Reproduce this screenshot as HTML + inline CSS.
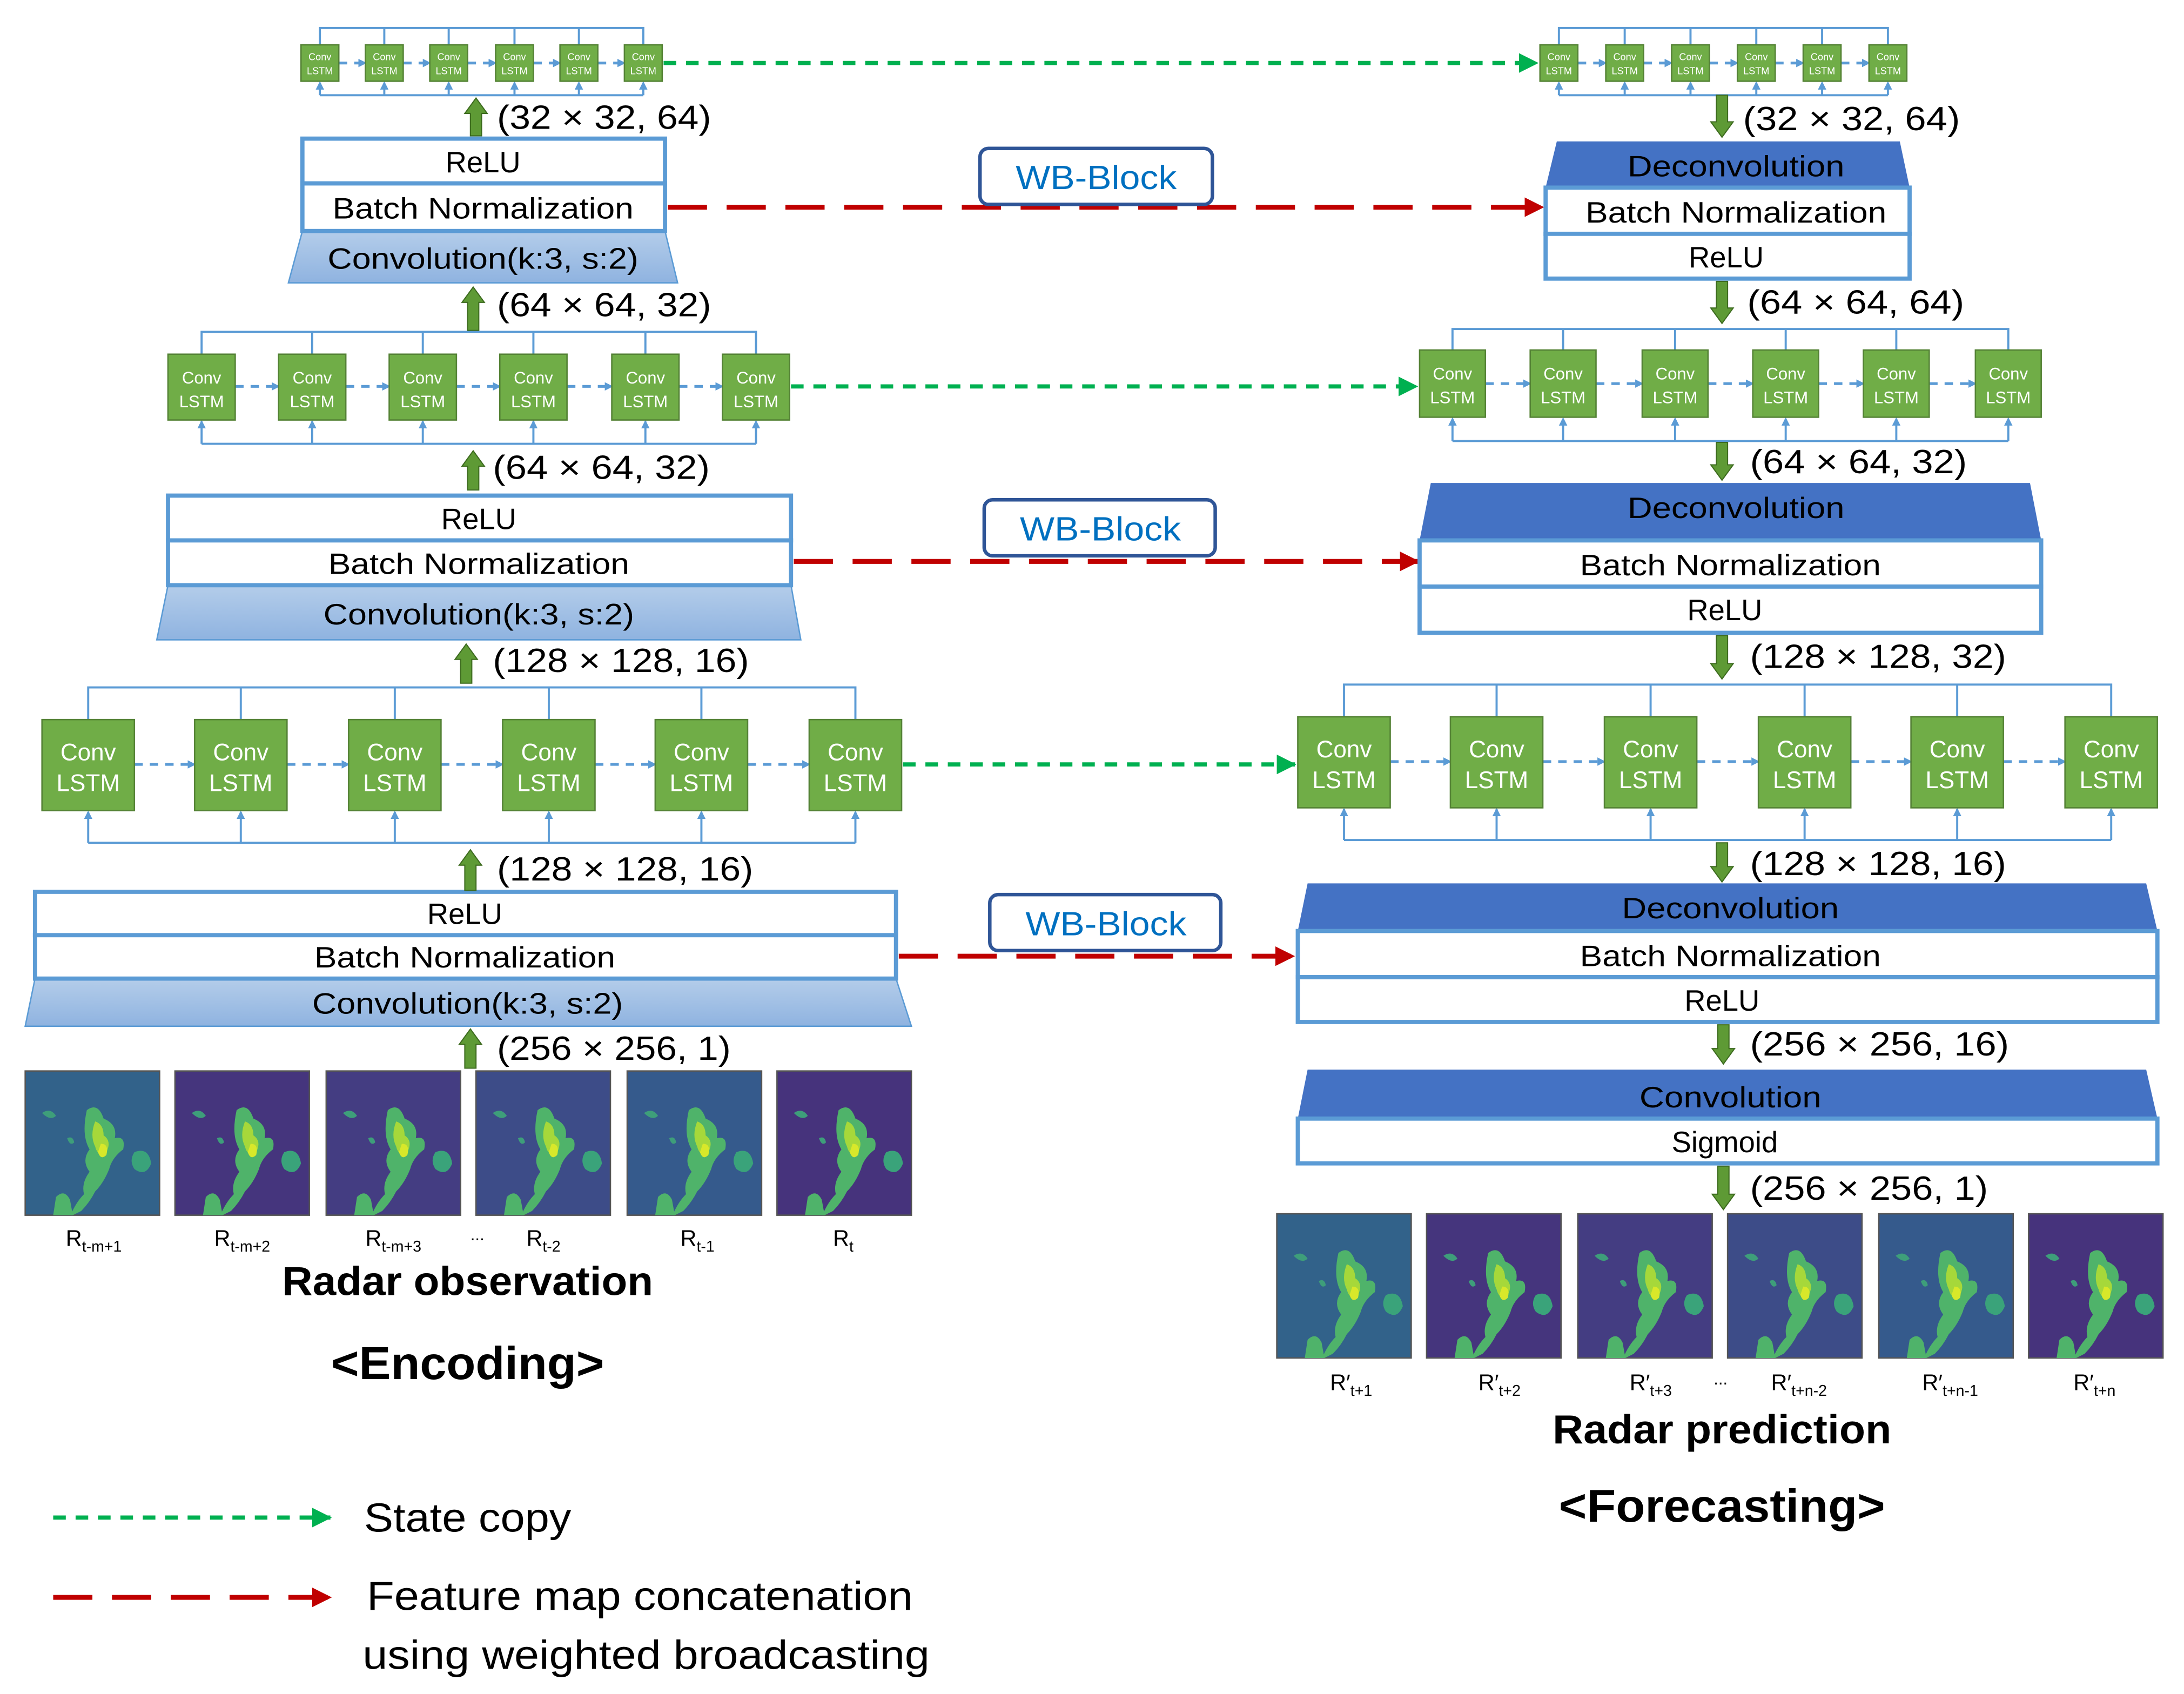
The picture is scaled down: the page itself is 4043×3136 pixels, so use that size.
<!DOCTYPE html>
<html><head><meta charset="utf-8"><style>
html,body{margin:0;padding:0;background:#fff;}
svg{display:block;}
text{font-family:"Liberation Sans",sans-serif;}
</style></head><body>
<svg width="4043" height="3136" viewBox="0 0 1560 1210" xmlns="http://www.w3.org/2000/svg">
<defs>
<marker id="mb" markerWidth="6" markerHeight="6" refX="5" refY="3" orient="auto" markerUnits="userSpaceOnUse"><path d="M0,0 L6,3 L0,6z" fill="#5b9bd5"/></marker>
<marker id="mg" markerWidth="14" markerHeight="14" refX="13" refY="7" orient="auto" markerUnits="userSpaceOnUse"><path d="M0,0 L14,7 L0,14z" fill="#00b050"/></marker>
<marker id="mr" markerWidth="14" markerHeight="14" refX="13" refY="7" orient="auto" markerUnits="userSpaceOnUse"><path d="M0,0 L14,7 L0,14z" fill="#c00000"/></marker>
<linearGradient id="cg" x1="0" y1="0" x2="0" y2="1"><stop offset="0" stop-color="#b4cdea"/><stop offset="1" stop-color="#8fb3e0"/></linearGradient>
<symbol id="radar" viewBox="0 0 96 103">
<path d="M12,30 q6,-4 10,2 q-4,4 -10,-2z" fill="#3e9e7a"/>
<path d="M44,28 q8,-6 12,6 q10,4 8,14 q8,-2 6,8 q-8,6 -10,14 q-4,10 -10,16 q-4,8 -10,14 l-8,4 q4,-10 10,-16 q-2,-8 4,-16 q-6,-8 0,-16 q-6,-10 -2,-28z" fill="#4fb36a"/>
<path d="M50,36 q6,2 6,10 q6,4 2,12 q-6,4 -8,-4 q-4,-8 0,-18z" fill="#a6d83a"/>
<path d="M54,52 q6,0 4,8 q-4,4 -6,-2z" fill="#d8e82a"/>
<path d="M78,58 q10,-4 12,8 q-4,10 -12,4 q-4,-6 0,-12z" fill="#3aa37a"/>
<path d="M22,90 q6,-6 10,2 l2,11 h-14z" fill="#4fb36a"/>
<path d="M30,48 q4,-2 5,3 q-3,3 -5,-3z" fill="#3e9e7a"/>
</symbol>
</defs>

<g stroke="#5b9bd5" stroke-width="1.5" fill="none">
<path d="M228.5,32V20H459.5V32 M274.5,20V32 M320.5,20V32 M367.5,20V32 M413.5,20V32"/>
<path d="M228.5,68H459.5"/>
<path d="M1113.5,32V20H1348.5V32 M1160.5,20V32 M1207.5,20V32 M1254.5,20V32 M1301.5,20V32"/>
<path d="M1113.5,68H1348.5"/>
<path d="M144,253V237H540V253 M223,237V253 M302,237V253 M381,237V253 M461,237V253"/>
<path d="M144,317H540"/>
<path d="M1037.5,250V235H1434.5V250 M1116.5,235V250 M1196.5,235V250 M1275.5,235V250 M1354.5,235V250"/>
<path d="M1037.5,315H1434.5"/>
<path d="M63,514V491H611V514 M172,491V514 M282,491V514 M392,491V514 M501,491V514"/>
<path d="M63,602H611"/>
<path d="M960,512V489H1508V512 M1069,489V512 M1179,489V512 M1289,489V512 M1398,489V512"/>
<path d="M960,600H1508"/>
</g>
<g stroke="#5b9bd5" stroke-width="1.5" fill="none" marker-end="url(#mb)">
<path d="M228.5,68V59"/><path d="M274.5,68V59"/><path d="M320.5,68V59"/><path d="M367.5,68V59"/><path d="M413.5,68V59"/><path d="M459.5,68V59"/>
<path d="M1113.5,68V59"/><path d="M1160.5,68V59"/><path d="M1207.5,68V59"/><path d="M1254.5,68V59"/><path d="M1301.5,68V59"/><path d="M1348.5,68V59"/>
<path d="M144,317V301"/><path d="M223,317V301"/><path d="M302,317V301"/><path d="M381,317V301"/><path d="M461,317V301"/><path d="M540,317V301"/>
<path d="M1037.5,315V299"/><path d="M1116.5,315V299"/><path d="M1196.5,315V299"/><path d="M1275.5,315V299"/><path d="M1354.5,315V299"/><path d="M1434.5,315V299"/>
<path d="M63,602V580"/><path d="M172,602V580"/><path d="M282,602V580"/><path d="M392,602V580"/><path d="M501,602V580"/><path d="M611,602V580"/>
<path d="M960,600V578"/><path d="M1069,600V578"/><path d="M1179,600V578"/><path d="M1289,600V578"/><path d="M1398,600V578"/><path d="M1508,600V578"/>
</g>
<g stroke="#5b9bd5" stroke-width="2" fill="none" stroke-dasharray="6,5" marker-end="url(#mb)">
<path d="M242,45H261"/><path d="M288,45H307"/><path d="M334,45H354"/><path d="M381,45H400"/><path d="M427,45H446"/>
<path d="M1127,45H1147"/><path d="M1174,45H1194"/><path d="M1221,45H1241"/><path d="M1268,45H1288"/><path d="M1315,45H1335"/>
<path d="M168,276H199"/><path d="M247,276H278"/><path d="M326,276H357"/><path d="M405,276H437"/><path d="M485,276H516"/>
<path d="M1061,274H1093"/><path d="M1140,274H1173"/><path d="M1220,274H1252"/><path d="M1299,274H1331"/><path d="M1378,274H1411"/>
<path d="M96,546H139"/><path d="M205,546H249"/><path d="M315,546H359"/><path d="M425,546H468"/><path d="M534,546H578"/>
<path d="M993,544H1036"/><path d="M1102,544H1146"/><path d="M1212,544H1256"/><path d="M1322,544H1365"/><path d="M1431,544H1475"/>
</g>
<g fill="#70ad47" stroke="#548235" stroke-width="1">
<rect x="215" y="32" width="27" height="26"/><rect x="261" y="32" width="27" height="26"/><rect x="307" y="32" width="27" height="26"/><rect x="354" y="32" width="27" height="26"/><rect x="400" y="32" width="27" height="26"/><rect x="446" y="32" width="27" height="26"/>
<rect x="1100" y="32" width="27" height="26"/><rect x="1147" y="32" width="27" height="26"/><rect x="1194" y="32" width="27" height="26"/><rect x="1241" y="32" width="27" height="26"/><rect x="1288" y="32" width="27" height="26"/><rect x="1335" y="32" width="27" height="26"/>
<rect x="120" y="253" width="48" height="47"/><rect x="199" y="253" width="48" height="47"/><rect x="278" y="253" width="48" height="47"/><rect x="357" y="253" width="48" height="47"/><rect x="437" y="253" width="48" height="47"/><rect x="516" y="253" width="48" height="47"/>
<rect x="1014" y="250" width="47" height="48"/><rect x="1093" y="250" width="47" height="48"/><rect x="1173" y="250" width="47" height="48"/><rect x="1252" y="250" width="47" height="48"/><rect x="1331" y="250" width="47" height="48"/><rect x="1411" y="250" width="47" height="48"/>
<rect x="30" y="514" width="66" height="65"/><rect x="139" y="514" width="66" height="65"/><rect x="249" y="514" width="66" height="65"/><rect x="359" y="514" width="66" height="65"/><rect x="468" y="514" width="66" height="65"/><rect x="578" y="514" width="66" height="65"/>
<rect x="927" y="512" width="66" height="65"/><rect x="1036" y="512" width="66" height="65"/><rect x="1146" y="512" width="66" height="65"/><rect x="1256" y="512" width="66" height="65"/><rect x="1365" y="512" width="66" height="65"/><rect x="1475" y="512" width="66" height="65"/>
</g>
<g fill="#fff" text-anchor="middle" font-size="7">
<text x="228.5" y="43">Conv</text><text x="228.5" y="53">LSTM</text>
<text x="274.5" y="43">Conv</text><text x="274.5" y="53">LSTM</text>
<text x="320.5" y="43">Conv</text><text x="320.5" y="53">LSTM</text>
<text x="367.5" y="43">Conv</text><text x="367.5" y="53">LSTM</text>
<text x="413.5" y="43">Conv</text><text x="413.5" y="53">LSTM</text>
<text x="459.5" y="43">Conv</text><text x="459.5" y="53">LSTM</text>
<text x="1113.5" y="43">Conv</text><text x="1113.5" y="53">LSTM</text>
<text x="1160.5" y="43">Conv</text><text x="1160.5" y="53">LSTM</text>
<text x="1207.5" y="43">Conv</text><text x="1207.5" y="53">LSTM</text>
<text x="1254.5" y="43">Conv</text><text x="1254.5" y="53">LSTM</text>
<text x="1301.5" y="43">Conv</text><text x="1301.5" y="53">LSTM</text>
<text x="1348.5" y="43">Conv</text><text x="1348.5" y="53">LSTM</text>
</g>
<g fill="#fff" text-anchor="middle" font-size="12">
<text x="144" y="274">Conv</text><text x="144" y="291">LSTM</text>
<text x="223" y="274">Conv</text><text x="223" y="291">LSTM</text>
<text x="302" y="274">Conv</text><text x="302" y="291">LSTM</text>
<text x="381" y="274">Conv</text><text x="381" y="291">LSTM</text>
<text x="461" y="274">Conv</text><text x="461" y="291">LSTM</text>
<text x="540" y="274">Conv</text><text x="540" y="291">LSTM</text>
<text x="1037.5" y="271">Conv</text><text x="1037.5" y="288">LSTM</text>
<text x="1116.5" y="271">Conv</text><text x="1116.5" y="288">LSTM</text>
<text x="1196.5" y="271">Conv</text><text x="1196.5" y="288">LSTM</text>
<text x="1275.5" y="271">Conv</text><text x="1275.5" y="288">LSTM</text>
<text x="1354.5" y="271">Conv</text><text x="1354.5" y="288">LSTM</text>
<text x="1434.5" y="271">Conv</text><text x="1434.5" y="288">LSTM</text>
</g>
<g fill="#fff" text-anchor="middle" font-size="17">
<text x="63" y="543">Conv</text><text x="63" y="565">LSTM</text>
<text x="172" y="543">Conv</text><text x="172" y="565">LSTM</text>
<text x="282" y="543">Conv</text><text x="282" y="565">LSTM</text>
<text x="392" y="543">Conv</text><text x="392" y="565">LSTM</text>
<text x="501" y="543">Conv</text><text x="501" y="565">LSTM</text>
<text x="611" y="543">Conv</text><text x="611" y="565">LSTM</text>
<text x="960" y="541">Conv</text><text x="960" y="563">LSTM</text>
<text x="1069" y="541">Conv</text><text x="1069" y="563">LSTM</text>
<text x="1179" y="541">Conv</text><text x="1179" y="563">LSTM</text>
<text x="1289" y="541">Conv</text><text x="1289" y="563">LSTM</text>
<text x="1398" y="541">Conv</text><text x="1398" y="563">LSTM</text>
<text x="1508" y="541">Conv</text><text x="1508" y="563">LSTM</text>
</g>

<g stroke="#00b050" stroke-width="3" fill="none" stroke-dasharray="9,7" marker-end="url(#mg)">
<path d="M474,45H1098"/>
<path d="M565,276H1012"/>
<path d="M645,546H925"/>
<path d="M38,1084H236"/>
</g>
<g stroke="#c00000" stroke-width="3.5" fill="none" stroke-dasharray="28,14" marker-end="url(#mr)">
<path d="M477,148H1102"/>
<path d="M567,401H1013"/>
<path d="M642,683H924"/>
<path d="M38,1141H236"/>
</g>

<g stroke="#5b9bd5" stroke-width="3">
<path d="M216,165H475L484,202H206Z" fill="url(#cg)" stroke-width="1"/>
<rect x="216" y="99" width="259" height="32" fill="#fff"/>
<rect x="216" y="131" width="259" height="34" fill="#fff"/>
<path d="M120,418H565L572,457H112Z" fill="url(#cg)" stroke-width="1"/>
<rect x="120" y="354" width="445" height="32" fill="#fff"/>
<rect x="120" y="386" width="445" height="32" fill="#fff"/>
<path d="M25,699H640L651,733H18Z" fill="url(#cg)" stroke-width="1"/>
<rect x="25" y="637" width="615" height="31" fill="#fff"/>
<rect x="25" y="668" width="615" height="31" fill="#fff"/>
</g>
<g font-size="21" text-anchor="middle" fill="#000">
<text x="345" y="123">ReLU</text>
<text x="345" y="156" textLength="215" lengthAdjust="spacingAndGlyphs">Batch Normalization</text>
<text x="345" y="192" textLength="222" lengthAdjust="spacingAndGlyphs">Convolution(k:3, s:2)</text>
<text x="342" y="378">ReLU</text>
<text x="342" y="410" textLength="215" lengthAdjust="spacingAndGlyphs">Batch Normalization</text>
<text x="342" y="446" textLength="222" lengthAdjust="spacingAndGlyphs">Convolution(k:3, s:2)</text>
<text x="332" y="660">ReLU</text>
<text x="332" y="691" textLength="215" lengthAdjust="spacingAndGlyphs">Batch Normalization</text>
<text x="334" y="724" textLength="222" lengthAdjust="spacingAndGlyphs">Convolution(k:3, s:2)</text>
</g>

<g stroke="#5b9bd5" stroke-width="3">
<path d="M1112,101H1357L1364,134H1104Z" fill="#4472c4" stroke="none"/>
<rect x="1104" y="134" width="260" height="33" fill="#fff"/>
<rect x="1104" y="167" width="260" height="32" fill="#fff"/>
<path d="M1022,345H1450L1458,386H1014Z" fill="#4472c4" stroke="none"/>
<rect x="1014" y="386" width="444" height="33" fill="#fff"/>
<rect x="1014" y="419" width="444" height="33" fill="#fff"/>
<path d="M934,631H1533L1541,665H927Z" fill="#4472c4" stroke="none"/>
<rect x="927" y="665" width="614" height="33" fill="#fff"/>
<rect x="927" y="698" width="614" height="32" fill="#fff"/>
<path d="M934,764H1533L1541,799H927Z" fill="#4472c4" stroke="none"/>
<rect x="927" y="799" width="614" height="32" fill="#fff"/>
</g>
<g font-size="21" text-anchor="middle" fill="#000">
<text x="1240" y="126" textLength="155" lengthAdjust="spacingAndGlyphs">Deconvolution</text>
<text x="1240" y="159" textLength="215" lengthAdjust="spacingAndGlyphs">Batch Normalization</text>
<text x="1233" y="191">ReLU</text>
<text x="1240" y="370" textLength="155" lengthAdjust="spacingAndGlyphs">Deconvolution</text>
<text x="1236" y="411" textLength="215" lengthAdjust="spacingAndGlyphs">Batch Normalization</text>
<text x="1232" y="443">ReLU</text>
<text x="1236" y="656" textLength="155" lengthAdjust="spacingAndGlyphs">Deconvolution</text>
<text x="1236" y="690" textLength="215" lengthAdjust="spacingAndGlyphs">Batch Normalization</text>
<text x="1230" y="722">ReLU</text>
<text x="1236" y="791" textLength="130" lengthAdjust="spacingAndGlyphs">Convolution</text>
<text x="1232" y="823">Sigmoid</text>
</g>

<g fill="#fff" stroke="#2f5597" stroke-width="2.5">
<rect x="700" y="106" width="166" height="40" rx="6"/>
<rect x="703" y="357" width="165" height="40" rx="6"/>
<rect x="707" y="639" width="165" height="40" rx="6"/>
</g>
<g font-size="24" text-anchor="middle" fill="#0070c0">
<text x="783" y="135" textLength="115" lengthAdjust="spacingAndGlyphs">WB-Block</text>
<text x="786" y="386" textLength="115" lengthAdjust="spacingAndGlyphs">WB-Block</text>
<text x="790" y="668" textLength="115" lengthAdjust="spacingAndGlyphs">WB-Block</text>
</g>

<g fill="#5e9a35" stroke="#3d6b1f" stroke-width="0.8">
<polygon points="336,97 344,97 344,81 348,81 340,70 332,81 336,81"/>
<polygon points="334,236 342,236 342,216 346,216 338,205 330,216 334,216"/>
<polygon points="334,350 342,350 342,333 346,333 338,322 330,333 334,333"/>
<polygon points="329,488 337,488 337,471 341,471 333,460 325,471 329,471"/>
<polygon points="332,636 340,636 340,618 344,618 336,607 328,618 332,618"/>
<polygon points="332,763 340,763 340,746 344,746 336,735 328,746 332,746"/>
<polygon points="1226,68 1234,68 1234,87 1238,87 1230,98 1222,87 1226,87"/>
<polygon points="1226,201 1234,201 1234,220 1238,220 1230,231 1222,220 1226,220"/>
<polygon points="1226,316 1234,316 1234,332 1238,332 1230,343 1222,332 1226,332"/>
<polygon points="1226,454 1234,454 1234,474 1238,474 1230,485 1222,474 1226,474"/>
<polygon points="1226,602 1234,602 1234,619 1238,619 1230,630 1222,619 1226,619"/>
<polygon points="1227,732 1235,732 1235,749 1239,749 1231,760 1223,749 1227,749"/>
<polygon points="1227,833 1235,833 1235,853 1239,853 1231,864 1223,853 1227,853"/>
</g>
<g font-size="24" fill="#000">
<text x="355" y="92" textLength="153" lengthAdjust="spacingAndGlyphs">(32 × 32, 64)</text>
<text x="355" y="226" textLength="153" lengthAdjust="spacingAndGlyphs">(64 × 64, 32)</text>
<text x="352" y="342" textLength="155" lengthAdjust="spacingAndGlyphs">(64 × 64, 32)</text>
<text x="352" y="480" textLength="183" lengthAdjust="spacingAndGlyphs">(128 × 128, 16)</text>
<text x="355" y="629" textLength="183" lengthAdjust="spacingAndGlyphs">(128 × 128, 16)</text>
<text x="355" y="757" textLength="167" lengthAdjust="spacingAndGlyphs">(256 × 256, 1)</text>
<text x="1245" y="93" textLength="155" lengthAdjust="spacingAndGlyphs">(32 × 32, 64)</text>
<text x="1248" y="224" textLength="155" lengthAdjust="spacingAndGlyphs">(64 × 64, 64)</text>
<text x="1250" y="338" textLength="155" lengthAdjust="spacingAndGlyphs">(64 × 64, 32)</text>
<text x="1250" y="477" textLength="183" lengthAdjust="spacingAndGlyphs">(128 × 128, 32)</text>
<text x="1250" y="625" textLength="183" lengthAdjust="spacingAndGlyphs">(128 × 128, 16)</text>
<text x="1250" y="754" textLength="185" lengthAdjust="spacingAndGlyphs">(256 × 256, 16)</text>
<text x="1250" y="857" textLength="170" lengthAdjust="spacingAndGlyphs">(256 × 256, 1)</text>
</g>

<g stroke="#555" stroke-width="1">
<rect x="18" y="765" width="96" height="103" fill="#32628a"/>
<rect x="125" y="765" width="96" height="103" fill="#45357d"/>
<rect x="233" y="765" width="96" height="103" fill="#443d82"/>
<rect x="340" y="765" width="96" height="103" fill="#3d4c88"/>
<rect x="448" y="765" width="96" height="103" fill="#355a8c"/>
<rect x="555" y="765" width="96" height="103" fill="#46337c"/>
<rect x="912" y="867" width="96" height="103" fill="#32628a"/>
<rect x="1019" y="867" width="96" height="103" fill="#45357d"/>
<rect x="1127" y="867" width="96" height="103" fill="#443d82"/>
<rect x="1234" y="867" width="96" height="103" fill="#3d4c88"/>
<rect x="1342" y="867" width="96" height="103" fill="#355a8c"/>
<rect x="1449" y="867" width="96" height="103" fill="#46337c"/>
</g>
<use href="#radar" x="18" y="765" width="96" height="103"/>
<use href="#radar" x="125" y="765" width="96" height="103"/>
<use href="#radar" x="233" y="765" width="96" height="103"/>
<use href="#radar" x="340" y="765" width="96" height="103"/>
<use href="#radar" x="448" y="765" width="96" height="103"/>
<use href="#radar" x="555" y="765" width="96" height="103"/>
<use href="#radar" x="912" y="867" width="96" height="103"/>
<use href="#radar" x="1019" y="867" width="96" height="103"/>
<use href="#radar" x="1127" y="867" width="96" height="103"/>
<use href="#radar" x="1234" y="867" width="96" height="103"/>
<use href="#radar" x="1342" y="867" width="96" height="103"/>
<use href="#radar" x="1449" y="867" width="96" height="103"/>

<g font-size="16" fill="#000">
<text x="47" y="890">R<tspan font-size="11" dy="4">t-m+1</tspan></text>
<text x="153" y="890">R<tspan font-size="11" dy="4">t-m+2</tspan></text>
<text x="261" y="890">R<tspan font-size="11" dy="4">t-m+3</tspan></text>
<text x="336" y="886" font-size="12">...</text>
<text x="376" y="890">R<tspan font-size="11" dy="4">t-2</tspan></text>
<text x="486" y="890">R<tspan font-size="11" dy="4">t-1</tspan></text>
<text x="595" y="890">R<tspan font-size="11" dy="4">t</tspan></text>
<text x="950" y="993">R′<tspan font-size="11" dy="4">t+1</tspan></text>
<text x="1056" y="993">R′<tspan font-size="11" dy="4">t+2</tspan></text>
<text x="1164" y="993">R′<tspan font-size="11" dy="4">t+3</tspan></text>
<text x="1224" y="989" font-size="12">...</text>
<text x="1265" y="993">R′<tspan font-size="11" dy="4">t+n-2</tspan></text>
<text x="1373" y="993">R′<tspan font-size="11" dy="4">t+n-1</tspan></text>
<text x="1481" y="993">R′<tspan font-size="11" dy="4">t+n</tspan></text>
</g>
<g font-weight="bold" text-anchor="middle" fill="#000">
<text x="334" y="925" font-size="29" textLength="265" lengthAdjust="spacingAndGlyphs">Radar observation</text>
<text x="334" y="985" font-size="33" textLength="195" lengthAdjust="spacingAndGlyphs">&lt;Encoding&gt;</text>
<text x="1230" y="1031" font-size="29" textLength="242" lengthAdjust="spacingAndGlyphs">Radar prediction</text>
<text x="1230" y="1087" font-size="33" textLength="233" lengthAdjust="spacingAndGlyphs">&lt;Forecasting&gt;</text>
</g>
<g font-size="29" fill="#000">
<text x="260" y="1094" textLength="148" lengthAdjust="spacingAndGlyphs">State copy</text>
<text x="262" y="1150" textLength="390" lengthAdjust="spacingAndGlyphs">Feature map concatenation</text>
<text x="259" y="1192" textLength="405" lengthAdjust="spacingAndGlyphs">using weighted broadcasting</text>
</g>
</svg>
</body></html>
